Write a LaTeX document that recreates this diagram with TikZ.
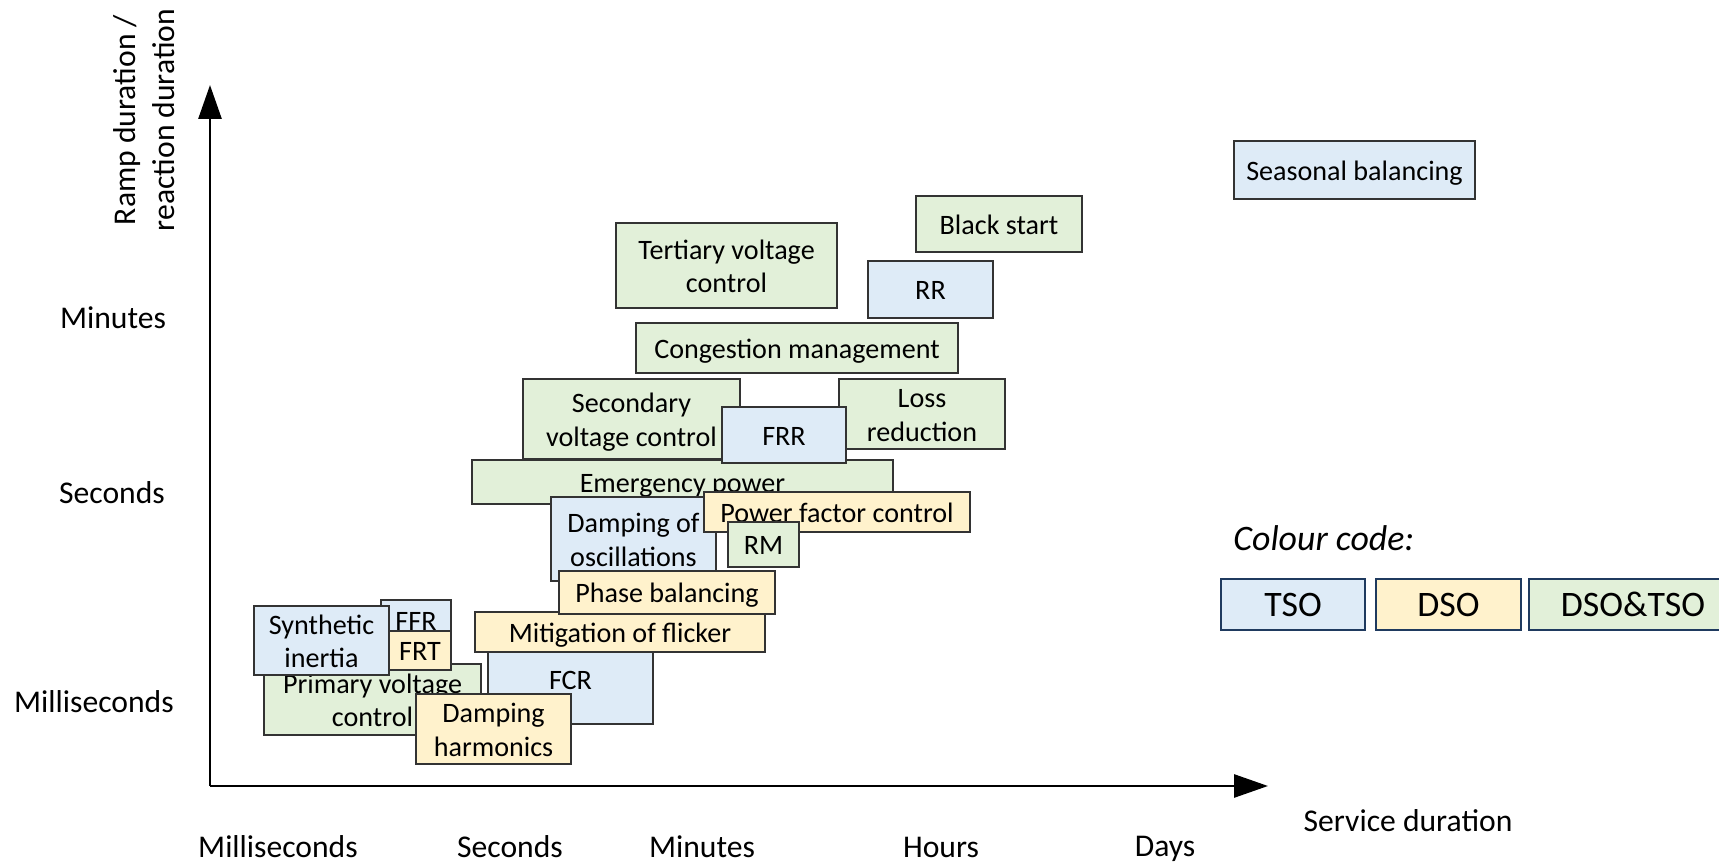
\documentclass[tikz,border=0pt]{standalone}
\usepackage{fontspec}
\setmainfont{Carlito}
\usetikzlibrary{arrows.meta}
\definecolor{tsoblue}{HTML}{DEEBF7}
\definecolor{dsoyellow}{HTML}{FFF2CC}
\definecolor{jointgreen}{HTML}{E2F0D9}
\definecolor{legendline}{HTML}{1F3A5F}

\begin{document}
\begin{tikzpicture}[x=0.1mm, y=-0.1mm,
    service/.style={draw=black!80, line width=0.5pt, inner sep=0pt, align=center, font=\fontsize{8}{9.6}\selectfont,
      execute at begin node={\rule{0pt}{7.8pt}}, execute at end node={\rule[-2pt]{0pt}{2pt}}},
    twolines/.style={text height=17.6pt},
    tsobox/.style={service, fill=tsoblue},
    dsobox/.style={service, fill=dsoyellow},
    jointbox/.style={service, fill=jointgreen},
    legendbox/.style={draw=legendline, line width=0.75pt, inner sep=0pt, minimum height=5.1mm, font=\fontsize{10.2}{12}\selectfont},
    axislabel/.style={font=\fontsize{9}{11}\selectfont, align=center}]
  \useasboundingbox (0,0) rectangle (1719,863);
  % axes
  \coordinate (origin) at (210,786);
  \coordinate (ytip) at (210,85);
  \coordinate (xtip) at (1268,786);
  \draw[line width=0.8pt, -{Triangle[length=3.4mm,width=2.3mm]}] (origin) -- (ytip);
  \draw[line width=0.8pt, -{Triangle[length=3.4mm,width=2.3mm]}] (origin) -- (xtip);
  % axis titles
  \node[axislabel, rotate=90] (ylabel) at (144,120) {Ramp duration /\\reaction duration};
  \node[axislabel] (xlabel) at (1408,821) {Service duration};
  % ticks on the vertical axis
  \node[axislabel] (ymin) at (113,318) {Minutes};
  \node[axislabel] (ysec) at (112,493) {Seconds};
  \node[axislabel] (yms) at (94,702) {Milliseconds};
  % ticks on the horizontal axis
  \node[axislabel] (xms) at (278,847) {Milliseconds};
  \node[axislabel] (xsec) at (510,847) {Seconds};
  \node[axislabel] (xmin) at (702,847) {Minutes};
  \node[axislabel] (xhour) at (941,847) {Hours};
  \node[axislabel] (xday) at (1165,849) {Days};

  % long services
  \node[tsobox, minimum width=24.1mm, minimum height=5.8mm] (seasonal) at (1354.5,170) {Seasonal balancing};
  \node[jointbox, minimum width=16.6mm, minimum height=5.6mm] (blackstart) at (999,224) {Black start};
  \node[jointbox, twolines, minimum width=22.1mm, minimum height=8.5mm] (tertiary) at (726.5,265.5) {Tertiary voltage\\control};
  \node[tsobox, minimum width=12.5mm, minimum height=5.7mm] (rr) at (930.5,289.5) {RR};
  \node[jointbox, minimum width=32.2mm, minimum height=5.0mm] (congestion) at (797,348) {Congestion management};
  % seconds to minutes
  \node[jointbox, twolines, minimum width=21.7mm, minimum height=8.0mm] (secondary) at (631.5,419) {Secondary\\voltage control};
  \node[jointbox, twolines, minimum width=16.6mm, minimum height=7.0mm] (loss) at (922,414) {Loss\\reduction};
  \node[jointbox, minimum width=42.1mm, minimum height=4.4mm] (emergency) at (682.5,482) {Emergency power};
  \node[tsobox, minimum width=12.4mm, minimum height=5.6mm] (frr) at (784,435) {FRR};
  \node[tsobox, twolines, minimum width=16.5mm, minimum height=8.4mm] (dampingosc) at (633.5,539) {Damping of\\oscillations};
  \node[dsobox, minimum width=26.6mm, minimum height=4.0mm] (powerfactor) at (837,512) {Power factor control};
  \node[jointbox, minimum width=7.1mm, minimum height=4.5mm] (rm) at (763.5,544.5) {RM};
  % fast services
  \node[tsobox, minimum width=16.5mm, minimum height=7.2mm, text depth=7.2pt] (fcr) at (570.5,688) {FCR};
  \node[dsobox, minimum width=29.0mm, minimum height=4.0mm] (mitigation) at (620,632) {Mitigation of flicker};
  \node[dsobox, minimum width=21.6mm, minimum height=4.3mm] (phase) at (667,592.5) {Phase balancing};
  \node[jointbox, twolines, minimum width=21.7mm, minimum height=7.1mm] (primary) at (372.5,699.5) {Primary voltage\\control};
  \node[tsobox, minimum width=7.0mm, minimum height=4.0mm] (ffr) at (416,620) {FFR};
  \node[dsobox, minimum width=6.2mm, minimum height=3.9mm] (frt) at (420,650.5) {FRT};
  \node[tsobox, twolines, minimum width=13.5mm, minimum height=5.9mm] (synthetic) at (321.5,640.5) {Synthetic\\inertia};
  \node[dsobox, twolines, minimum width=15.5mm, minimum height=7.0mm] (harmonics) at (493.5,729) {Damping\\harmonics};

  % colour code
  \node[anchor=west, font=\fontsize{10.2}{12}\selectfont\itshape] (colourcode) at (1221,538) {Colour code:};
  \node[legendbox, fill=tsoblue, minimum width=14.4mm] (tso) at (1293,604.5) {TSO};
  \node[legendbox, fill=dsoyellow, minimum width=14.5mm] (dso) at (1448.5,604.5) {DSO};
  \node[legendbox, fill=jointgreen, minimum width=20.8mm] (dsotso) at (1633,604.5) {DSO\&TSO};
\end{tikzpicture}
\end{document}
